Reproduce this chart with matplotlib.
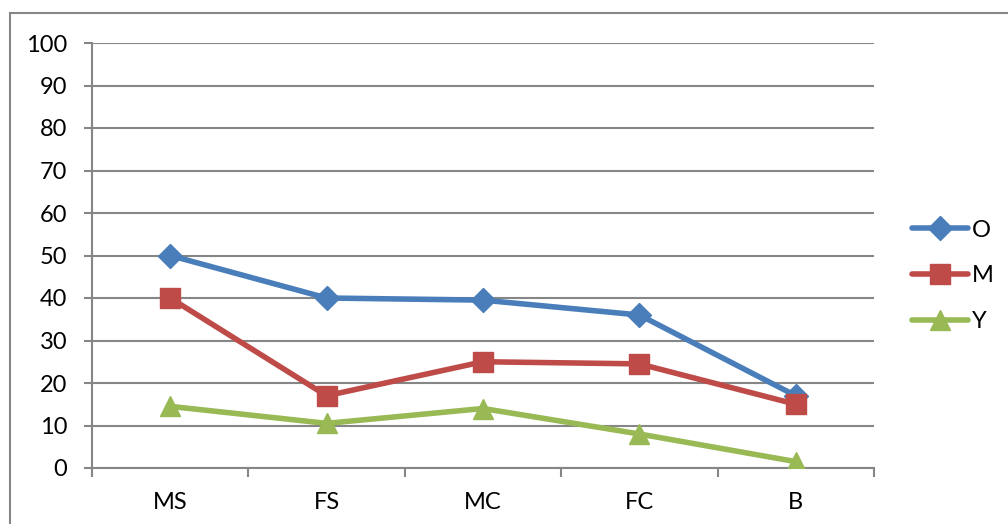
import matplotlib.pyplot as plt
from matplotlib.patches import Rectangle

categories = ["MS", "FS", "MC", "FC", "B"]
o_values = [50, 40, 39.5, 36, 17]
m_values = [40, 17, 25, 24.5, 15]
y_values = [14.5, 10.5, 14, 8, 1.5]

blue = "#4A7EBB"
red = "#BE4B48"
green = "#98B954"
grey = "#868686"

plt.rcParams["font.family"] = ["Lato", "DejaVu Sans"]
plt.rcParams["font.size"] = 17

fig = plt.figure(figsize=(10.08, 5.24), dpi=100)
ax = fig.add_axes([92 / 1008, 56 / 524, 782 / 1008, 425 / 524])

# chart area border
fig.patches.append(Rectangle((10 / 1008, -0.1), 1.2, 1.1 - 13 / 524,
                             transform=fig.transFigure, fill=False,
                             edgecolor=grey, linewidth=1.5))

x = list(range(len(categories)))
ax.plot(x, o_values, color=blue, linewidth=4, marker="D", markersize=12,
        label="O", solid_capstyle="round", zorder=3)
ax.plot(x, m_values, color=red, linewidth=4, marker="s", markersize=14,
        label="M", solid_capstyle="round", zorder=3)
ax.plot(x, y_values, color=green, linewidth=4, marker="^", markersize=15,
        label="Y", solid_capstyle="round", zorder=3)

ax.set_xlim(-0.5, len(categories) - 0.5)
ax.set_ylim(0, 100)
ax.set_yticks(range(0, 101, 10))
ax.yaxis.grid(True, color=grey, linewidth=1.5)
ax.set_axisbelow(True)

# boundary ticks between categories, labels centred on categories
ax.set_xticks([i - 0.5 for i in range(len(categories) + 1)])
ax.set_xticklabels([])
ax.set_xticks(x, minor=True)
ax.set_xticklabels(categories, minor=True)
ax.tick_params(axis="x", which="major", length=6.5, width=1.5, color=grey)
ax.tick_params(axis="x", which="minor", length=0, pad=17)
ax.tick_params(axis="y", length=5.8, width=1.5, color=grey, pad=12)

for side in ["top", "right"]:
    ax.spines[side].set_visible(False)
for side in ["left", "bottom"]:
    ax.spines[side].set_color(grey)
    ax.spines[side].set_linewidth(1.5)

ax.legend(loc="center left", bbox_to_anchor=(1.048, 0.452), frameon=False,
          handlelength=2.4, handletextpad=0.15, labelspacing=1.05,
          fontsize=17, borderaxespad=0, borderpad=0)

plt.savefig("out.png", dpi=100)
plt.close()
